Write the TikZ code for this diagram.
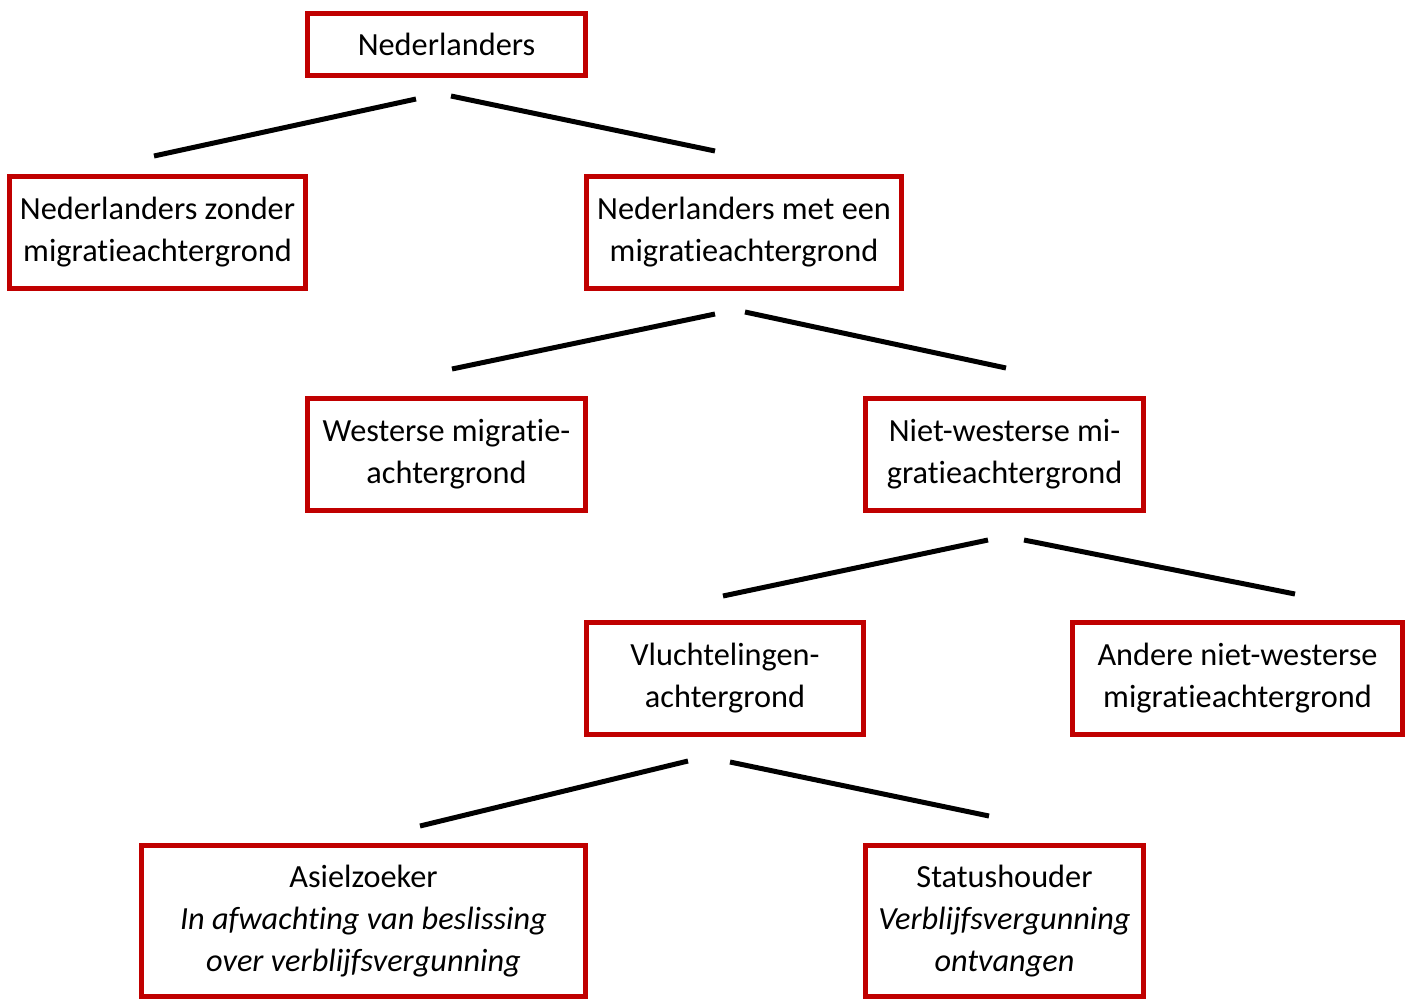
\documentclass[tikz,border=0pt]{standalone}
\usepackage{fontspec}
\setmainfont{Carlito}[Ligatures=NoCommon]
\definecolor{boxred}{HTML}{C00000}
\tikzset{
  box/.style={draw=boxred, line width=5pt, rectangle, inner sep=0pt, align=center,
    font=\fontsize{32.3}{42}\selectfont},
  link/.style={draw=black, line width=5pt}
}
\begin{document}
\begin{tikzpicture}[x=1pt,y=-1pt]
\useasboundingbox (0,0) rectangle (1411,999);
\node[box, minimum width=278, minimum height=62] (ned) at (446.5,44.5) {Nederlanders};
\node[box, minimum width=296, minimum height=112] (zonder) at (157.5,232.5) {Nederlanders zonder\\migratieachtergrond};
\node[box, minimum width=315, minimum height=112] (met) at (744,232.5) {Nederlanders met een\\migratieachtergrond};
\node[box, minimum width=278, minimum height=112] (west) at (446.5,454.5) {Westerse migratie-\\achtergrond};
\node[box, minimum width=278, minimum height=112] (nwest) at (1004.5,454.5) {Niet-westerse mi-\\gratieachtergrond};
\node[box, minimum width=277, minimum height=112] (vlucht) at (725,678.5) {Vluchtelingen-\\achtergrond};
\node[box, minimum width=330, minimum height=112] (andere) at (1237.5,678.5) {Andere niet-westerse\\migratieachtergrond};
\node[box, minimum width=444, minimum height=151] (asiel) at (363.5,921) {Asielzoeker\\\textit{In afwachting van beslissing}\\\textit{over verblijfsvergunning}};
\node[box, minimum width=278, minimum height=151] (status) at (1004.5,921) {Statushouder\\\textit{Verblijfsvergunning}\\\textit{ontvangen}};

\coordinate (a1) at (416,99);  \coordinate (a2) at (154,156);
\coordinate (b1) at (451,96);  \coordinate (b2) at (715,151);
\coordinate (c1) at (715,314); \coordinate (c2) at (452,369);
\coordinate (d1) at (745,312); \coordinate (d2) at (1006,368);
\coordinate (e1) at (988,540); \coordinate (e2) at (723,596);
\coordinate (f1) at (1024,540);\coordinate (f2) at (1295,594);
\coordinate (g1) at (688,761); \coordinate (g2) at (420,826);
\coordinate (h1) at (730,762); \coordinate (h2) at (989,816);
\draw[link] (a1) -- (a2);
\draw[link] (b1) -- (b2);
\draw[link] (c1) -- (c2);
\draw[link] (d1) -- (d2);
\draw[link] (e1) -- (e2);
\draw[link] (f1) -- (f2);
\draw[link] (g1) -- (g2);
\draw[link] (h1) -- (h2);
\end{tikzpicture}
\end{document}
